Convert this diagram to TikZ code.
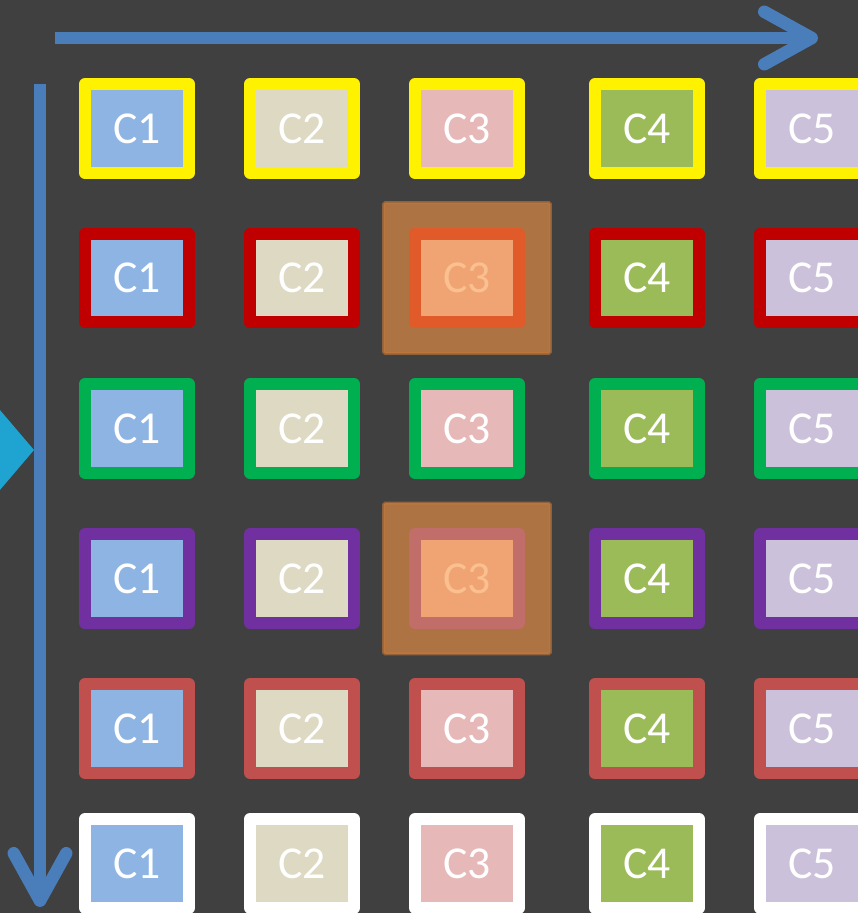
\documentclass[tikz,border=0pt]{standalone}
\usepackage{fontspec}
\setmainfont{Carlito}
\usepackage{tikz}
\usetikzlibrary{arrows.meta}

\definecolor{bgdark}{HTML}{404040}
\definecolor{axisblue}{HTML}{4A7EBB}
\definecolor{markcyan}{HTML}{1FA3D1}
\definecolor{hlorange}{HTML}{F79646}
\definecolor{fillone}{HTML}{8EB4E3}
\definecolor{filltwo}{HTML}{DDD9C3}
\definecolor{fillthree}{HTML}{E6B9B8}
\definecolor{fillfour}{HTML}{9BBB59}
\definecolor{fillfive}{HTML}{CCC1DA}
\definecolor{edgered}{HTML}{C00000}
\definecolor{edgegreen}{HTML}{00B050}
\definecolor{edgepurple}{HTML}{7030A0}
\definecolor{edgerose}{HTML}{C0504D}

\begin{document}
\begin{tikzpicture}[
  x=0.02cm, y=-0.02cm,
  cell/.style={
    draw,
    line width=0.24cm,
    line join=round,
    minimum width=2.08cm,
    minimum height=1.78cm,
    inner sep=0pt,
    text=white,
    font=\fontsize{26}{30}\selectfont
  },
  cone/.style={cell, fill=fillone},
  ctwo/.style={cell, fill=filltwo},
  cthree/.style={cell, fill=fillthree},
  cfour/.style={cell, fill=fillfour},
  cfive/.style={cell, fill=fillfive},
  axis/.style={draw=axisblue, line width=0.25cm,
    -{Straight Barb[length=0.95cm, width=1.05cm, round]}},
  hilite/.style={
    draw=hlorange!80!black,
    line width=0.06cm,
    fill=hlorange,
    opacity=0.6,
    rounded corners=1pt,
    minimum width=3.34cm,
    minimum height=3.02cm
  }
]
  \fill[bgdark] (0,0) rectangle (858,913);
  \useasboundingbox (0,0) rectangle (858,913);

  % side marker
  \fill[markcyan] (-12,396) -- (34,450) -- (-12,504) -- cycle;

  % axes
  \coordinate (hstart) at (55,38);
  \coordinate (hend) at (818,38);
  \coordinate (vstart) at (40,84);
  \coordinate (vend) at (40,907);
  \draw[axis] (hstart) -- (hend);
  \draw[axis] (vstart) -- (vend);

  % row 1
  \node[cone, draw=yellow] (r1c1) at (137,128.5) {C1};
  \node[ctwo, draw=yellow] (r1c2) at (302,128.5) {C2};
  \node[cthree, draw=yellow] (r1c3) at (467,128.5) {C3};
  \node[cfour, draw=yellow] (r1c4) at (647,128.5) {C4};
  \node[cfive, draw=yellow] (r1c5) at (812,128.5) {C5};
  % row 2
  \node[cone, draw=edgered] (r2c1) at (137,278) {C1};
  \node[ctwo, draw=edgered] (r2c2) at (302,278) {C2};
  \node[cthree, draw=edgered] (r2c3) at (467,278) {C3};
  \node[cfour, draw=edgered] (r2c4) at (647,278) {C4};
  \node[cfive, draw=edgered] (r2c5) at (812,278) {C5};
  % row 3
  \node[cone, draw=edgegreen] (r3c1) at (137,428.5) {C1};
  \node[ctwo, draw=edgegreen] (r3c2) at (302,428.5) {C2};
  \node[cthree, draw=edgegreen] (r3c3) at (467,428.5) {C3};
  \node[cfour, draw=edgegreen] (r3c4) at (647,428.5) {C4};
  \node[cfive, draw=edgegreen] (r3c5) at (812,428.5) {C5};
  % row 4
  \node[cone, draw=edgepurple] (r4c1) at (137,578.5) {C1};
  \node[ctwo, draw=edgepurple] (r4c2) at (302,578.5) {C2};
  \node[cthree, draw=edgepurple] (r4c3) at (467,578.5) {C3};
  \node[cfour, draw=edgepurple] (r4c4) at (647,578.5) {C4};
  \node[cfive, draw=edgepurple] (r4c5) at (812,578.5) {C5};
  % row 5
  \node[cone, draw=edgerose] (r5c1) at (137,728.5) {C1};
  \node[ctwo, draw=edgerose] (r5c2) at (302,728.5) {C2};
  \node[cthree, draw=edgerose] (r5c3) at (467,728.5) {C3};
  \node[cfour, draw=edgerose] (r5c4) at (647,728.5) {C4};
  \node[cfive, draw=edgerose] (r5c5) at (812,728.5) {C5};
  % row 6
  \node[cone, draw=white] (r6c1) at (137,863.5) {C1};
  \node[ctwo, draw=white] (r6c2) at (302,863.5) {C2};
  \node[cthree, draw=white] (r6c3) at (467,863.5) {C3};
  \node[cfour, draw=white] (r6c4) at (647,863.5) {C4};
  \node[cfive, draw=white] (r6c5) at (812,863.5) {C5};

  % highlights over C3
  \node[hilite] (hltwo) at (r2c3) {};
  \node[hilite] (hlfour) at (r4c3) {};
\end{tikzpicture}
\end{document}
